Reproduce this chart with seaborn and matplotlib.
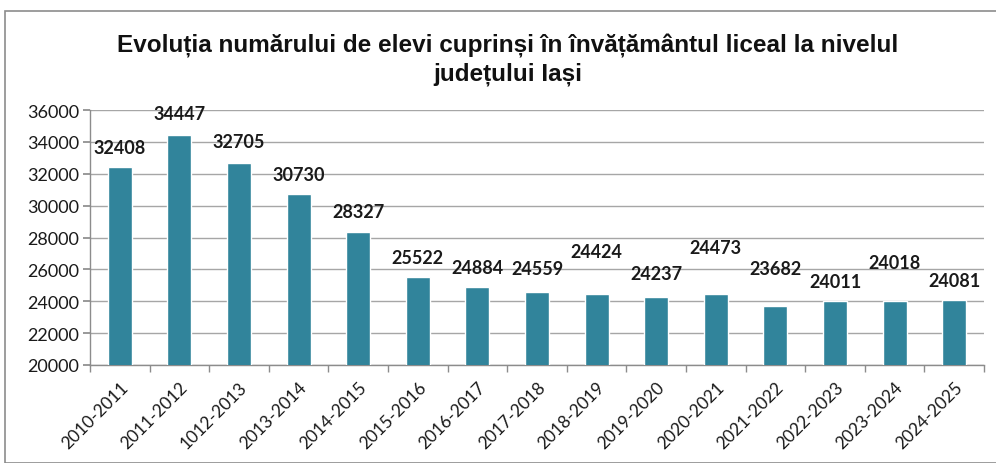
import matplotlib
matplotlib.use("Agg")
import matplotlib.pyplot as plt
import seaborn as sns
import pandas as pd
import numpy as np
from matplotlib.patches import Rectangle
from matplotlib.ticker import FixedLocator

years = ["2010-2011", "2011-2012", "1012-2013", "2013-2014", "2014-2015",
         "2015-2016", "2016-2017", "2017-2018", "2018-2019", "2019-2020",
         "2020-2021", "2021-2022", "2022-2023", "2023-2024", "2024-2025"]
students = [32408, 34447, 32705, 30730, 28327, 25522, 24884, 24559, 24424,
            24237, 24473, 23682, 24011, 24018, 24081]
# vertical offsets (points) of the data labels above the bars
label_offsets = [14, 15, 15, 14, 15, 14, 14, 17, 31, 17, 33, 27, 14, 28, 14]

title = "Evoluția numărului de elevi cuprinși în învățământul liceal la nivelul\njudețului Iași"

sns.set_theme(style="white")
plt.rcParams['font.family'] = ['Lato', 'DejaVu Sans']

df = pd.DataFrame({"an": years, "elevi": students})

fig = plt.figure(figsize=(9.96, 4.64), dpi=100)
ax = fig.add_axes([90/996, 1-366/464, (984-90)/996, (366-111)/464])

sns.barplot(data=df, x="an", y="elevi", color="#31849B", width=0.4,
            saturation=1, ax=ax, zorder=3)

ax.set_ylim(20000, 36000)
ax.set_yticks(np.arange(20000, 36001, 2000))
ax.set_xlim(-0.5, len(years) - 0.5)
ax.yaxis.grid(True, color="#A6A6A6", linewidth=1.0, zorder=0)
ax.set_axisbelow(True)
ax.set_xlabel("")
ax.set_ylabel("")

for s in ["top", "right"]:
    ax.spines[s].set_visible(False)
for s in ["left", "bottom"]:
    ax.spines[s].set_color("#8C8C8C")
    ax.spines[s].set_linewidth(1.0)

ax.tick_params(axis="y", which="major", length=5, color="#8C8C8C", labelsize=13,
               labelcolor="#1a1a1a", direction="out", left=True, pad=3)
ax.set_xticks(range(len(years)))
ax.set_xticklabels(years, rotation=45, ha="right", rotation_mode="anchor", fontsize=12.5,
                   color="#1a1a1a")
ax.tick_params(axis="x", which="major", length=0, pad=10)
ax.xaxis.set_minor_locator(FixedLocator(np.arange(-0.5, len(years), 1.0)))
ax.tick_params(axis="x", which="minor", length=5, color="#8C8C8C", bottom=True, direction="out")

for i, (v, off) in enumerate(zip(students, label_offsets)):
    ax.annotate(f"{v}", (i, v), xytext=(0, off), textcoords="offset points",
                ha="center", va="center", fontsize=13, fontweight="bold", color="#1a1a1a")

fig.text(508/996, 1-60/464, title, ha="center", va="center", fontsize=17.5,
         fontweight="bold", family=["Liberation Sans", "DejaVu Sans"], linespacing=1.2,
         color="#111111")

fig.patches.append(Rectangle((5/996, 0), 1.2, 1-12/464, transform=fig.transFigure,
                             fill=False, edgecolor="#8C8C8C", linewidth=1.2))

fig.savefig("out.png", dpi=100)
